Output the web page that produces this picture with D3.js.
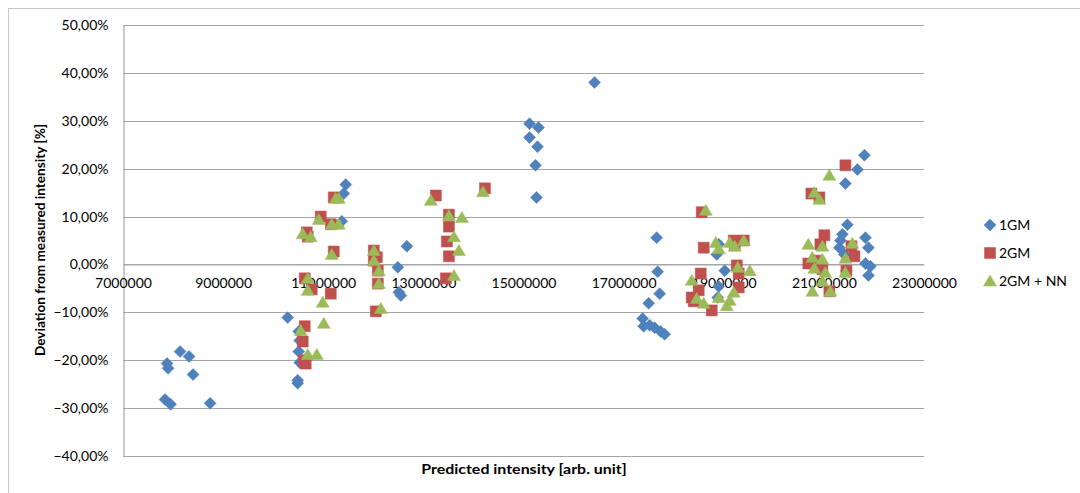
<!DOCTYPE html>
<html>
<head>
<meta charset="utf-8">
<script src="https://cdn.jsdelivr.net/npm/d3@7"></script>
<style>
  html, body { margin: 0; padding: 0; background: #fff; }
  svg { display: block; }
  text { font-family: Lato, "Open Sans", "Liberation Sans", sans-serif; fill: #000; }
</style>
</head>
<body>
<svg id="chart" width="1080" height="493"></svg>
<script>
// ---- Data (predicted intensity [arb. unit], deviation [%]) ----
const gm1X = [7.88e6, 7.90e6, 8.14e6, 8.32e6, 8.40e6, 7.84e6, 7.95e6, 8.74e6,
  10.29e6, 10.51e6, 10.53e6, 10.51e6, 10.53e6, 10.49e6, 10.49e6, 11.45e6, 11.41e6, 11.37e6,
  12.49e6, 12.51e6, 12.55e6, 12.67e6,
  15.12e6, 15.30e6, 15.12e6, 15.28e6, 15.24e6, 15.26e6, 16.42e6,
  17.66e6, 17.68e6, 17.72e6, 17.50e6, 17.38e6, 17.40e6, 17.52e6, 17.62e6, 17.74e6, 17.82e6,
  18.90e6, 18.86e6, 19.02e6, 18.88e6, 18.90e6,
  21.81e6, 21.67e6, 21.43e6, 21.47e6, 21.37e6, 21.33e6, 21.83e6, 21.89e6, 21.31e6, 21.41e6, 21.83e6, 21.93e6, 21.89e6, 21.45e6];
const gm1Y = [-20.7, -21.7, -18.2, -19.2, -23.0, -28.2, -29.2, -29.0,
  -11.1, -14.0, -15.9, -18.2, -20.5, -24.2, -24.8, 16.7, 14.8, 9.0,
  -0.6, -5.8, -6.5, 3.8,
  29.4, 28.6, 26.5, 24.6, 20.7, 14.0, 38.0,
  5.6, -1.5, -6.1, -8.1, -11.3, -12.9, -12.7, -13.2, -14.0, -14.6,
  4.2, 2.1, -1.3, -6.9, -4.6,
  22.8, 19.8, 16.9, 8.3, 6.3, 5.0, 5.6, 3.5, 3.5, 2.1, 0.2, -0.4, -2.3, -1.3];

const gm2X = [10.67e6, 10.69e6, 10.95e6, 11.21e6, 11.15e6, 11.21e6, 10.63e6, 10.77e6, 11.15e6, 10.63e6, 10.59e6, 10.61e6, 10.65e6,
  12.01e6, 12.07e6, 12.01e6, 12.09e6, 12.09e6, 12.05e6,
  13.25e6, 13.51e6, 13.51e6, 13.47e6, 13.51e6, 13.45e6, 14.23e6,
  18.56e6, 18.60e6, 19.20e6, 19.22e6, 19.40e6, 19.26e6, 19.30e6, 18.54e6, 18.40e6, 18.76e6, 19.30e6, 18.50e6, 18.36e6,
  21.43e6, 20.75e6, 20.91e6, 21.01e6, 20.93e6, 21.55e6, 21.61e6, 20.69e6, 20.85e6, 20.97e6, 21.11e6, 21.45e6];
const gm2Y = [6.7, 5.8, 10.0, 14.0, 8.4, 2.7, -2.9, -5.2, -6.1, -12.9, -16.1, -20.0, -20.7,
  2.9, 1.5, 0.8, -1.3, -4.0, -9.8,
  14.4, 10.4, 7.9, 4.8, 1.7, -2.9, 15.9,
  10.9, 3.5, 5.0, 4.0, 5.0, -0.2, -1.9, -1.9, -7.7, -9.6, -4.8, -5.4, -6.9,
  20.7, 14.8, 14.0, 6.1, 4.2, 3.8, 1.7, 0.2, 0.8, -1.0, -5.6, -1.3];

const nnX = [10.59e6, 10.75e6, 10.91e6, 11.17e6, 11.31e6, 11.25e6, 11.31e6, 11.17e6, 10.69e6, 10.69e6, 10.99e6, 11.01e6, 10.55e6, 10.69e6, 10.87e6,
  12.01e6, 12.01e6, 12.11e6, 12.11e6, 12.15e6,
  13.15e6, 13.51e6, 13.77e6, 13.61e6, 13.71e6, 13.61e6, 14.19e6,
  18.64e6, 18.84e6, 18.90e6, 19.12e6, 19.22e6, 19.40e6, 19.28e6, 19.52e6, 18.36e6, 18.46e6, 18.60e6, 18.90e6, 19.06e6, 19.20e6, 19.12e6,
  21.11e6, 20.81e6, 20.91e6, 20.69e6, 20.97e6, 21.57e6, 20.77e6, 20.97e6, 21.43e6, 20.81e6, 21.03e6, 21.43e6, 20.77e6, 21.13e6, 20.97e6];
const nnY = [6.4, 5.8, 9.4, 8.4, 8.4, 13.8, 13.8, 2.1, -2.9, -5.4, -7.9, -12.3, -13.8, -18.8, -18.8,
  2.9, 0.8, -1.3, -4.0, -9.2,
  13.4, 10.2, 9.8, 5.8, 2.9, -2.3, 15.2,
  11.3, 4.6, 3.3, 4.6, 3.8, 5.0, -0.6, -1.3, -3.3, -7.1, -8.1, -6.9, -8.6, -5.8, -7.5,
  18.6, 15.0, 13.6, 4.2, 3.8, 4.4, 1.5, 1.1, 1.3, -0.8, -1.7, -1.7, -5.6, -5.6, -3.5];

const seriesNames = ["1GM", "2GM", "2GM + NN"];
const xTicks = [7000000, 9000000, 11000000, 13000000, 15000000, 17000000, 19000000, 21000000, 23000000];
const yTicks = [-40, -30, -20, -10, 0, 10, 20, 30, 40, 50];

// ---- Layout ----
const svg = d3.select("#chart");
const plotL = 123, plotR = 924, plotT = 25, plotB = 456;
const x = d3.scaleLinear().domain([7000000, 23000000]).range([plotL, plotR]);
const y = d3.scaleLinear().domain([-40, 50]).range([plotB, plotT]);
const colors = ["#4F81BD", "#C0504D", "#9BBB59"];

// chart border
svg.append("rect").attr("x", 8.5).attr("y", 8.5).attr("width", 1200).attr("height", 600)
  .attr("fill", "none").attr("stroke", "#C8C8C8").attr("stroke-width", 1);

// gridlines
svg.append("g").selectAll("line").data(yTicks).join("line")
  .attr("x1", plotL).attr("x2", plotR)
  .attr("y1", d => Math.round(y(d)) + 0.5).attr("y2", d => Math.round(y(d)) + 0.5)
  .attr("stroke", "#A6A6A6").attr("stroke-width", 1.2);

// y axis
const yAxis = d3.axisLeft(y).tickValues(yTicks).tickSize(0).tickPadding(15)
  .tickFormat(d => d3.format(".2f")(d).replace(".", ",") + "%");
const gy = svg.append("g").attr("transform", `translate(${plotL + 0.5},0)`).call(yAxis);
gy.select(".domain").attr("stroke", "#A6A6A6").attr("stroke-width", 1.2);
gy.selectAll("text").style("font-size", "14px").attr("fill", "#000");

// x axis crossing at 0
const xAxis = d3.axisBottom(x).tickValues(xTicks).tickSize(0).tickPadding(14).tickFormat(d3.format("d"));
const gx = svg.append("g").attr("transform", `translate(0,${Math.round(y(0)) + 0.5})`).call(xAxis);
gx.select(".domain").attr("stroke", "#A6A6A6").attr("stroke-width", 1.2);
gx.selectAll("text").style("font-size", "14px").attr("fill", "#000");

// axis titles
svg.append("text").attr("transform", "translate(524,474) scale(1.14,1)").attr("text-anchor", "middle")
  .style("font-size", "14px").style("font-weight", "bold").text("Predicted intensity [arb. unit]");
svg.append("text").attr("transform", "translate(45,240) rotate(-90)").attr("text-anchor", "middle")
  .style("font-size", "13.6px").style("font-weight", "bold").text("Deviation from measured intensity [%]");

// marker shapes
const diamondPath = "M0,-6L6,0L0,6L-6,0Z";
const squarePath = "M-5.5,-5.5H5.5V5.5H-5.5Z";
const trianglePath = "M0,-6L6.5,5L-6.5,5Z";
const shapes = [diamondPath, squarePath, trianglePath];

const allSeries = [
  d3.zip(gm1X, gm1Y),
  d3.zip(gm2X, gm2Y),
  d3.zip(nnX, nnY)
];

allSeries.forEach((pts, i) => {
  svg.append("g").selectAll("path").data(pts).join("path")
    .attr("d", shapes[i])
    .attr("transform", d => `translate(${x(d[0])},${y(d[1])})`)
    .attr("fill", colors[i]).attr("stroke", colors[i]).attr("stroke-width", 0.5);
});

// legend
const leg = svg.append("g");
seriesNames.forEach((name, i) => {
  const ly = 225 + i * 28;
  leg.append("path").attr("d", shapes[i]).attr("transform", `translate(990,${ly})`)
    .attr("fill", colors[i]).attr("stroke", colors[i]).attr("stroke-width", 0.5);
  leg.append("text").attr("x", 999).attr("y", ly + 5).style("font-size", "14px").text(name);
});
</script>
</body>
</html>
